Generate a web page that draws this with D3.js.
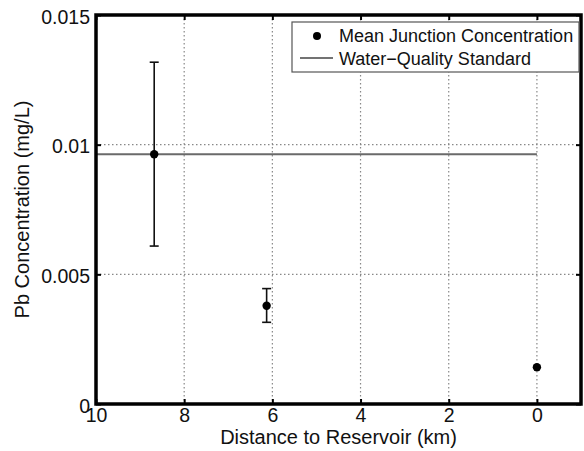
<!DOCTYPE html>
<html>
<head>
<meta charset="utf-8">
<script src="https://cdn.jsdelivr.net/npm/d3@7"></script>
<style>
body { margin: 0; background: #fff; }
text { font-family: "Liberation Sans", Arial, sans-serif; fill: #111; }
</style>
</head>
<body>
<svg id="chart"></svg>
<script>
// data
var distances = [8.68, 6.13, 0];
var means = [0.00963, 0.00379, 0.00142];
var errLow = [0.00609, 0.00315, null];
var errHigh = [0.01318, 0.00445, null];
var standardValue = 0.00963;
var standardRange = [10, 0];
var xTicks = [10, 8, 6, 4, 2, 0];
var yTicks = [0, 0.005, 0.01, 0.015];
var yTickLabels = ["0", "0.005", "0.01", "0.015"];

var screen = {width: 584, height: 451};
var margins = {top: 15, right: 3, left: 96, bottom: 47};
var width = screen.width - margins.left - margins.right;
var height = screen.height - margins.top - margins.bottom;

var svg = d3.select("#chart")
    .attr("width", screen.width)
    .attr("height", screen.height);

var xScale = d3.scaleLinear().domain([10, -1]).range([0, width]);
var yScale = d3.scaleLinear().domain([0, 0.015]).range([height, 0]);

var graph = svg.append("g")
    .attr("id", "graph")
    .attr("transform", "translate(" + margins.left + "," + margins.top + ")");

// dotted grid
graph.append("g").selectAll("line")
    .data(xTicks.filter(function(d) { return d != 10; }))
    .enter().append("line")
    .attr("x1", function(d) { return xScale(d); })
    .attr("x2", function(d) { return xScale(d); })
    .attr("y1", 0).attr("y2", height)
    .attr("stroke", "#888").attr("stroke-width", 1.2)
    .attr("stroke-dasharray", "1.5,2.5");

graph.append("g").selectAll("line")
    .data(yTicks.filter(function(d) { return d > 0 && d < 0.015; }))
    .enter().append("line")
    .attr("x1", 0).attr("x2", width)
    .attr("y1", function(d) { return yScale(d); })
    .attr("y2", function(d) { return yScale(d); })
    .attr("stroke", "#888").attr("stroke-width", 1.2)
    .attr("stroke-dasharray", "1.5,2.5");

// axes, ticks inside
var xAxis = d3.axisBottom(xScale).tickValues(xTicks).tickSizeInner(-5).tickSizeOuter(0);
var yAxis = d3.axisLeft(yScale).tickValues(yTicks).tickSizeInner(-5).tickSizeOuter(0).tickPadding(6)
    .tickFormat(function(d, i) { return yTickLabels[i]; });

var gx = graph.append("g").attr("transform", "translate(0," + height + ")").call(xAxis);
var gy = graph.append("g").call(yAxis);
graph.append("g").call(d3.axisTop(xScale).tickValues(xTicks).tickSize(-5).tickFormat(""));
graph.append("g").attr("transform", "translate(" + width + ",0)")
    .call(d3.axisRight(yScale).tickValues(yTicks).tickSize(-5).tickFormat(""));

graph.selectAll(".domain").remove();
graph.selectAll(".tick line").attr("stroke", "#000").attr("stroke-width", 2);
gx.selectAll("text").style("font-size", "19.5px").attr("y", 18).attr("dy", 0);
gy.selectAll("text").style("font-size", "19.5px").attr("dy", "0.42em");

// water quality standard
graph.append("line")
    .attr("x1", xScale(standardRange[0]))
    .attr("x2", xScale(standardRange[1]))
    .attr("y1", yScale(standardValue))
    .attr("y2", yScale(standardValue))
    .attr("stroke", "#6a6a6a").attr("stroke-width", 2.2);

// error bars
var pts = distances.map(function(d, i) {
    return {x: d, y: means[i], lo: errLow[i], hi: errHigh[i]};
});
var bars = graph.append("g").selectAll("g")
    .data(pts.filter(function(p) { return p.lo != null; }))
    .enter().append("g")
    .attr("stroke", "#111").attr("stroke-width", 1.6);
bars.append("line")
    .attr("x1", function(p) { return xScale(p.x); })
    .attr("x2", function(p) { return xScale(p.x); })
    .attr("y1", function(p) { return yScale(p.lo); })
    .attr("y2", function(p) { return yScale(p.hi); });
bars.append("line")
    .attr("x1", function(p) { return xScale(p.x) - 4.5; })
    .attr("x2", function(p) { return xScale(p.x) + 4.5; })
    .attr("y1", function(p) { return yScale(p.lo); })
    .attr("y2", function(p) { return yScale(p.lo); });
bars.append("line")
    .attr("x1", function(p) { return xScale(p.x) - 4.5; })
    .attr("x2", function(p) { return xScale(p.x) + 4.5; })
    .attr("y1", function(p) { return yScale(p.hi); })
    .attr("y2", function(p) { return yScale(p.hi); });

graph.append("g").selectAll("circle")
    .data(pts)
    .enter().append("circle")
    .attr("cx", function(p) { return xScale(p.x); })
    .attr("cy", function(p) { return yScale(p.y); })
    .attr("r", 4.2)
    .attr("fill", "#000");

// frame
graph.append("rect")
    .attr("width", width).attr("height", height)
    .attr("fill", "none").attr("stroke", "#000").attr("stroke-width", 3.5);

// legend
var legend = svg.append("g").attr("transform", "translate(292,22)");
legend.append("rect")
    .attr("width", 287).attr("height", 50)
    .attr("fill", "#fff").attr("stroke", "#555").attr("stroke-width", 1.2);
legend.append("circle").attr("cx", 25).attr("cy", 14).attr("r", 4).attr("fill", "#000");
legend.append("line").attr("x1", 8).attr("x2", 41).attr("y1", 36).attr("y2", 36)
    .attr("stroke", "#444").attr("stroke-width", 1.5);
legend.append("text").attr("x", 47).attr("y", 20).style("font-size", "18px")
    .text("Mean Junction Concentration");
legend.append("text").attr("x", 47).attr("y", 43).style("font-size", "18px")
    .text("Water\u2212Quality Standard");

// axis labels
svg.append("text")
    .attr("x", margins.left + width / 2).attr("y", 444)
    .attr("text-anchor", "middle").style("font-size", "20px")
    .text("Distance to Reservoir (km)");
svg.append("text")
    .attr("transform", "translate(29," + (margins.top + height / 2) + ") rotate(-90)")
    .attr("text-anchor", "middle").style("font-size", "20px")
    .text("Pb Concentration (mg/L)");
</script>
</body>
</html>
